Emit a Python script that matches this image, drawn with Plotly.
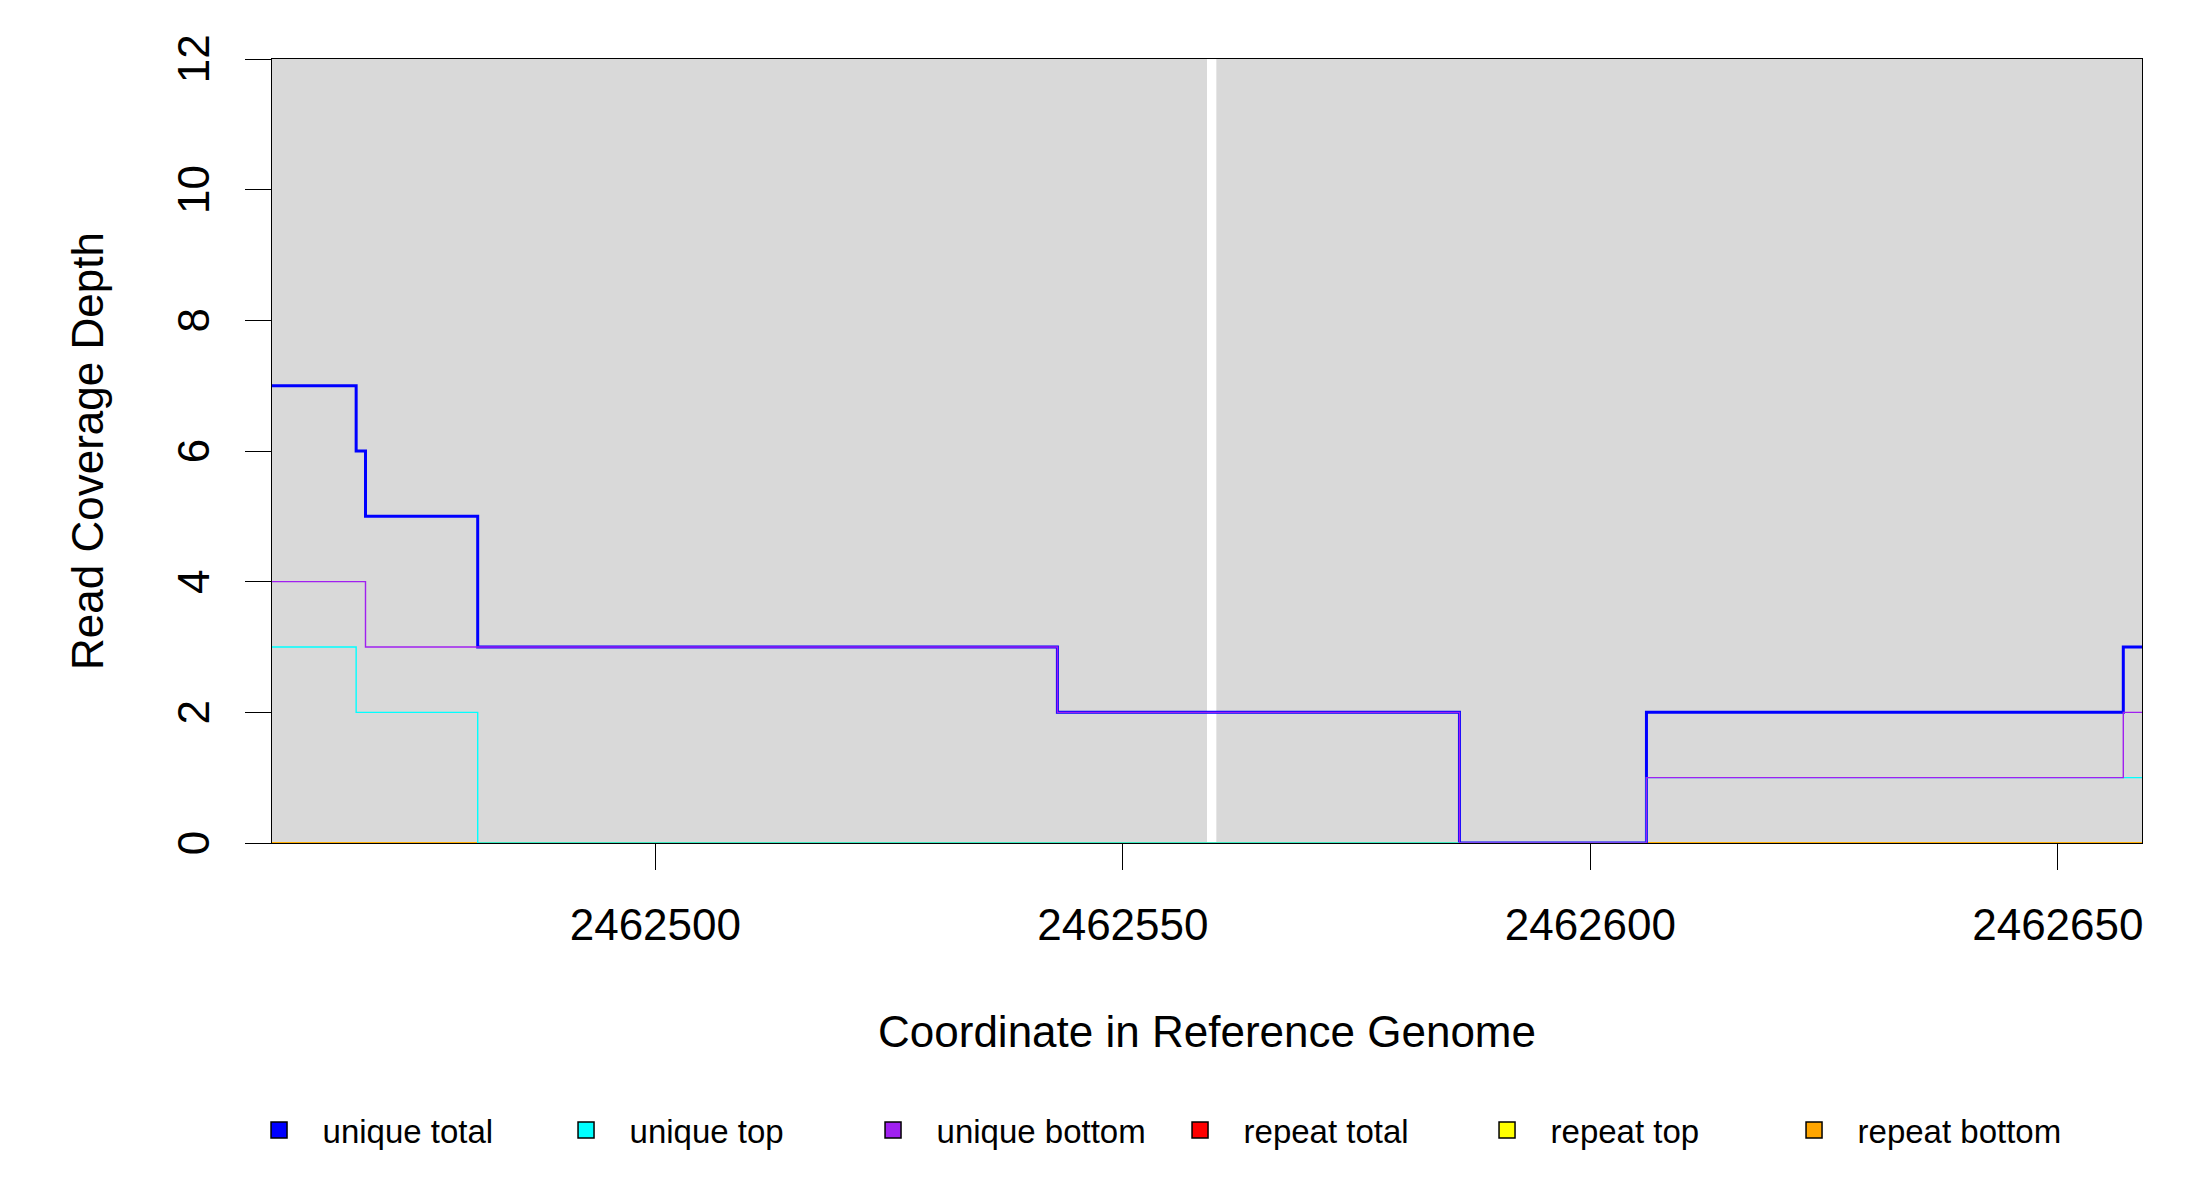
import plotly.graph_objects as go

# coverage steps (value holds from this coordinate to the next one)
positions = [2462459, 2462468, 2462469, 2462481, 2462543, 2462586, 2462606, 2462657, 2462659]
unique_total = [7, 6, 5, 3, 2, 0, 2, 3, 3]
unique_top = [3, 2, 2, 0, 0, 0, 1, 1, 1]
unique_bottom = [4, 4, 3, 3, 2, 0, 1, 2, 2]
repeat_total = [0, 0, 0, 0, 0, 0, 0, 0, 0]
repeat_top = [0, 0, 0, 0, 0, 0, 0, 0, 0]
repeat_bottom = [0, 0, 0, 0, 0, 0, 0, 0, 0]

# reference segments shaded grey (gap between them stays white)
segment_starts = [2462459, 2462560]
segment_ends = [2462559, 2462659]

x_ticks = [2462500, 2462550, 2462600, 2462650]
y_ticks = [0, 2, 4, 6, 8, 10, 12]

FONT = "Liberation Sans, Arial, sans-serif"

series = [
    ("unique total", unique_total, "#0000FF"),
    ("unique top", unique_top, "#00FFFF"),
    ("unique bottom", unique_bottom, "#A020F0"),
    ("repeat total", repeat_total, "#FF0000"),
    ("repeat top", repeat_top, "#FFFF00"),
    ("repeat bottom", repeat_bottom, "#FFA500"),
]

fig = go.Figure()

for s0, s1 in zip(segment_starts, segment_ends):
    fig.add_shape(type="rect", x0=s0, x1=s1, y0=0, y1=12, xref="x", yref="y",
                  fillcolor="#D9D9D9", line=dict(width=0), layer="below")

# repeats drawn first, unique on top
draw_order = [3, 4, 5, 0, 1, 2]
for i in draw_order:
    name, vals, color = series[i]
    fig.add_trace(go.Scatter(
        x=positions, y=vals, mode="lines", line_shape="hv",
        line=dict(color=color, width=3 if i == 0 else 1.4),
        showlegend=False, hoverinfo="skip", name=name,
    ))

# legend entries as filled squares
for name, vals, color in series:
    fig.add_trace(go.Scatter(
        x=[None], y=[None], mode="markers", name=name,
        marker=dict(symbol="square", size=16, color=color,
                    line=dict(color="black", width=1.5)),
    ))

fig.update_xaxes(
    range=[positions[0], positions[-1]],
    tickvals=x_ticks, ticktext=[str(v) for v in x_ticks],
    ticks="outside", ticklen=26, tickwidth=1.4, tickcolor="black",
    showline=True, mirror=True, linecolor="black", linewidth=1.4,
    showgrid=False, zeroline=False,
    tickfont=dict(size=44, color="black"),
    ticklabelstandoff=17,
    title=dict(text="Coordinate in Reference Genome", font=dict(size=44, color="black"),
               standoff=68),
)
# y tick labels drawn as rotated annotations (centred on the tick like R);
# the axis keeps invisible labels so the title spacing stays the same
fig.update_yaxes(
    range=[0, 12],
    tickvals=y_ticks,
    ticks="outside", ticklen=26, tickwidth=1.4, tickcolor="black",
    tickangle=-90,
    showline=True, mirror=True, linecolor="black", linewidth=1.4,
    showgrid=False, zeroline=False,
    tickfont=dict(size=44, color="rgba(0,0,0,0)"),
    ticklabelstandoff=19,
    title=dict(text="Read Coverage Depth", font=dict(size=44, color="black"),
               standoff=50),
)
for v in y_ticks:
    fig.add_annotation(x=-0.0421, xref="paper", y=v, yref="y", text=str(v),
                       textangle=-90, showarrow=False, xanchor="center", yanchor="middle",
                       font=dict(size=44, color="black", family=FONT))

fig.update_layout(
    width=2200, height=1200,
    margin=dict(l=264, r=66, t=51, b=365, pad=0),
    paper_bgcolor="white", plot_bgcolor="white",
    font=dict(family=FONT, color="black"),
    legend=dict(
        orientation="h", x=-0.0195, y=-0.366, xanchor="left", yanchor="middle",
        itemwidth=77, entrywidth=215, entrywidthmode="pixels",
        font=dict(size=33, color="black"),
        bgcolor="rgba(0,0,0,0)", borderwidth=0,
    ),
)

fig.write_html("out.html")
